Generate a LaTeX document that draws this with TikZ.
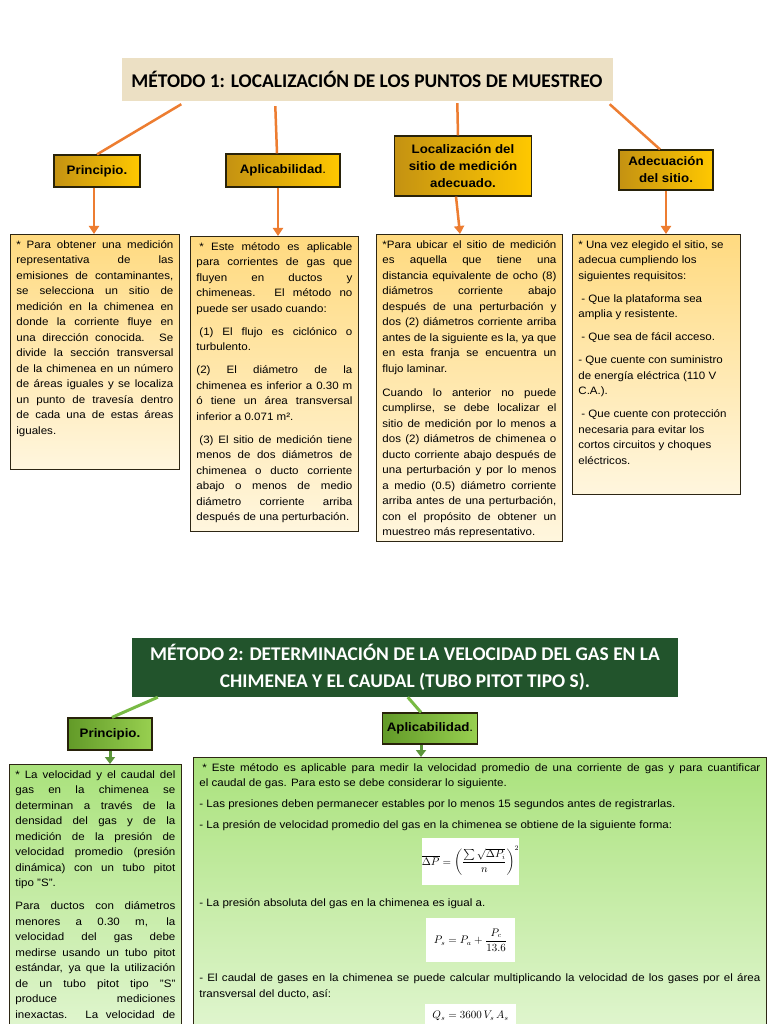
\documentclass[tikz,border=0pt]{standalone}
\usepackage{amsmath}
\usepackage{fontspec}
\setmainfont{Liberation Sans}[FakeStretch=1.08]
\newfontfamily\titulofont{Carlito}
\usetikzlibrary{arrows.meta,positioning,calc}
\definecolor{pergamino}{RGB}{236,224,196}
\definecolor{verdeosc}{RGB}{34,84,44}
\definecolor{naranja}{RGB}{237,125,49}
\definecolor{oroosc}{RGB}{196,146,18}
\definecolor{oroclaro}{RGB}{255,200,0}
\definecolor{crema1}{RGB}{255,218,128}
\definecolor{crema2}{RGB}{255,246,222}
\definecolor{verdeA}{RGB}{98,154,40}
\definecolor{verdeB}{RGB}{152,208,80}
\definecolor{menta1}{RGB}{170,226,124}
\definecolor{menta2}{RGB}{226,246,210}
\definecolor{verdelinea}{RGB}{120,186,68}
\definecolor{verdeflecha}{RGB}{92,150,58}
\definecolor{borde}{RGB}{45,38,20}
\definecolor{bordeniv}{RGB}{40,34,10}

\newcommand{\bloque}[4][7.5pt]{\parbox[t][#3pt][t]{#2pt}{\hyphenpenalty=10000\setlength{\parskip}{#1}#4}}

\tikzset{
  titulo/.style={inner sep=0pt, align=center, font=\titulofont\bfseries\fontsize{19.4}{27}\selectfont},
  nivelA/.style={draw=bordeniv, line width=1.2pt, left color=oroosc, right color=oroclaro,
    inner sep=2pt, align=center, font=\bfseries\fontsize{12.3}{17}\selectfont},
  nivelB/.style={nivelA, left color=verdeA, right color=verdeB},
  cajaA/.style={draw=borde, line width=0.8pt, top color=crema1, bottom color=crema2,
    inner sep=6pt, anchor=north west, font=\fontsize{10.7}{15.5}\selectfont},
  cajaB/.style={cajaA, top color=menta1, bottom color=menta2},
  enlaceA/.style={naranja, line width=2.5pt},
  flechaA/.style={enlaceA, -{Triangle[width=10pt,length=8pt]}},
  enlaceB/.style={verdelinea, line width=3pt},
  flechaB/.style={verdeflecha, line width=3pt, -{Triangle[width=10pt,length=7pt]}},
  formula/.style={fill=white, inner sep=0pt, font=\fontsize{10.5}{12}\selectfont},
}

\begin{document}
\begin{tikzpicture}[x=1pt, y=-1pt]
  \clip (0,0) rectangle (768,1024);
  \fill[white] (0,0) rectangle (768,1024);

  % metodo 1
  \node[titulo, fill=pergamino, minimum width=491, minimum height=43] (met1) at (367,79.5)
    {MÉTODO 1: LOCALIZACIÓN DE LOS PUNTOS DE MUESTREO};
  \node[nivelA, minimum width=86, minimum height=32] (prin1) at (97,171) {Principio.};
  \node[nivelA, minimum width=114, minimum height=33] (apli1) at (283,170.5) {Aplicabilidad\textmd{.}};
  \node[nivelA, minimum width=137, minimum height=60] (loca1) at (463,166)
    {Localización del\\ sitio de medición\\ adecuado.};
  \node[nivelA, minimum width=94, minimum height=40] (adec1) at (666,170) {Adecuación\\ del sitio.};

  \node[cajaA] (tprin1) at (10,234) {\bloque{157}{223}{%
    * Para obtener una medición\linebreak representativa de las\linebreak
    emisiones de contaminantes,\linebreak se selecciona un sitio de\linebreak
    medición en la chimenea en\linebreak donde la corriente fluye en\linebreak
    una dirección conocida. Se\linebreak divide la sección transversal\linebreak
    de la chimenea en un número\linebreak de áreas iguales y se localiza\linebreak
    un punto de travesía dentro\linebreak de cada una de estas áreas\linebreak iguales.}};
  \node[cajaA] (tapli1) at (190,236) {\bloque{156}{283}{%
    \hspace*{3pt}* Este método es aplicable\linebreak para corrientes de gas que\linebreak
    fluyen en ductos y\linebreak chimeneas. El método no\linebreak puede ser usado cuando:\par
    \hspace*{3pt}(1) El flujo es ciclónico o\linebreak turbulento.\par
    (2) El diámetro de la\linebreak chimenea es inferior a 0.30 m\linebreak
    ó tiene un área transversal\linebreak inferior a 0.071 m².\par
    \hspace*{3pt}(3) El sitio de medición tiene\linebreak menos de dos diámetros de\linebreak
    chimenea o ducto corriente\linebreak abajo o menos de medio\linebreak
    diámetro corriente arriba\linebreak después de una perturbación.}};
  \node[cajaA] (tloca1) at (376,234) {\bloque[8.5pt]{174}{295}{%
    *Para ubicar el sitio de medición\linebreak es aquella que tiene una\linebreak
    distancia equivalente de ocho (8)\linebreak diámetros corriente abajo\linebreak
    después de una perturbación y\linebreak dos (2) diámetros corriente arriba\linebreak
    antes de la siguiente es la, ya que\linebreak en esta franja se encuentra un\linebreak
    flujo laminar.\par
    Cuando lo anterior no puede\linebreak cumplirse, se debe localizar el\linebreak
    sitio de medición por lo menos a\linebreak dos (2) diámetros de chimenea o\linebreak
    ducto corriente abajo después de\linebreak una perturbación y por lo menos\linebreak
    a medio (0.5) diámetro corriente\linebreak arriba antes de una perturbación,\linebreak
    con el propósito de obtener un\linebreak muestreo más representativo.}};
  \node[cajaA] (tadec1) at (572,234) {\bloque{156}{248}{\raggedright
    * Una vez elegido el sitio, se\\ adecua cumpliendo los\\ siguientes requisitos:\par
    \hspace*{3pt}- Que la plataforma sea\\ amplia y resistente.\par
    \hspace*{3pt}- Que sea de fácil acceso.\par
    - Que cuente con suministro\\ de energía eléctrica (110 V\\ C.A.).\par
    \hspace*{3pt}- Que cuente con protección\\ necesaria para evitar los\\
    cortos circuitos y choques\\ eléctricos.}};

  \draw[enlaceA] ([xshift=60pt,yshift=-3pt]met1.south west) -- (prin1.north);
  \draw[enlaceA] ([xshift=154pt,yshift=-5pt]met1.south west) -- ([xshift=-6pt]apli1.north);
  \draw[enlaceA] ([xshift=336pt,yshift=-2pt]met1.south west) -- ([xshift=-5pt]loca1.north);
  \draw[enlaceA] ([xshift=-3pt,yshift=-3pt]met1.south east) -- ([xshift=-6pt]adec1.north);
  \draw[flechaA] ([xshift=-3pt]prin1.south) -- ([xshift=-3pt]prin1.south |- tprin1.north);
  \draw[flechaA] ([xshift=-5pt]apli1.south) -- ([xshift=-5pt]apli1.south |- tapli1.north);
  \draw[flechaA] ([xshift=-7pt]loca1.south) -- ([xshift=-3pt]loca1.south |- tloca1.north);
  \draw[flechaA] (adec1.south) -- (adec1.south |- tadec1.north);

  % metodo 2
  \node[titulo, fill=verdeosc, text=white, minimum width=546, minimum height=59] (met2) at (405,667.5)
    {MÉTODO 2: DETERMINACIÓN DE LA VELOCIDAD DEL GAS EN LA\\ CHIMENEA Y EL CAUDAL (TUBO PITOT TIPO S).};
  \node[nivelB, minimum width=84, minimum height=32] (prin2) at (110,734) {Principio.};
  \node[nivelB, minimum width=95, minimum height=31] (apli2) at (430,728.5) {Aplicabilidad\textmd{.}};

  \node[cajaB] (tprin2) at (9,764) {\bloque{160}{264}{%
    * La velocidad y el caudal del\linebreak gas en la chimenea se\linebreak
    determinan a través de la\linebreak densidad del gas y de la\linebreak
    medición de la presión de\linebreak velocidad promedio (presión\linebreak
    dinámica) con un tubo pitot\linebreak tipo "S".\par
    {\parfillskip=0pt Para ductos con diámetros\linebreak menores a 0.30 m, la\linebreak
    velocidad del gas debe\linebreak medirse usando un tubo pitot\linebreak
    estándar, ya que la utilización\linebreak de un tubo pitot tipo "S"\linebreak
    produce mediciones\linebreak inexactas. La velocidad de\par}}};
  \node[cajaB] (tapli2) at (193,757) {\bloque[5.5pt]{561}{271}{%
    \hspace*{3pt}* Este método es aplicable para medir la velocidad promedio de una corriente de gas y para cuantificar\linebreak
    el caudal de gas. Para esto se debe considerar lo siguiente.\par
    - Las presiones deben permanecer estables por lo menos 15 segundos antes de registrarlas.\par
    - La presión de velocidad promedio del gas en la chimenea se obtiene de la siguiente forma:\par
    \vspace{57pt}- La presión absoluta del gas en la chimenea es igual a.\par
    \vspace{54pt}- El caudal de gases en la chimenea se puede calcular multiplicando la velocidad de los gases por el área\linebreak
    transversal del ducto, así:}};
  \node[formula, minimum width=97, minimum height=47] (f1) at (470.5,861)
    {$\overline{\Delta P}=\left(\dfrac{\sum\sqrt{\Delta P_i}}{n}\right)^{2}$};
  \node[formula, minimum width=89, minimum height=44] (f2) at (470.5,940)
    {$P_s=P_a+\dfrac{P_c}{13.6}$};
  \node[formula, minimum width=91, minimum height=24] (f3) at (470.5,1016)
    {$Q_s=3600\,V_s\,A_s$};

  \draw[enlaceB] ([xshift=26pt]met2.south west) -- ([xshift=2pt]prin2.north);
  \draw[enlaceB] ([xshift=276pt]met2.south west) -- ([xshift=-9pt]apli2.north);
  \draw[flechaB] (prin2.south) -- (prin2.south |- tprin2.north);
  \draw[flechaB] ([xshift=-9pt]apli2.south) -- ([xshift=-9pt]apli2.south |- tapli2.north);
\end{tikzpicture}
\end{document}
